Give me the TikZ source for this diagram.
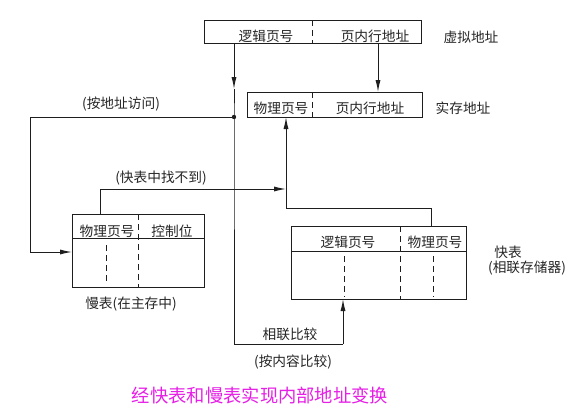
\documentclass[tikz,border=0pt]{standalone}
\usepackage{fontspec}
\newfontfamily\cjk{Noto Sans CJK SC}
\usetikzlibrary{arrows.meta,calc}
\definecolor{titlemag}{RGB}{230,30,230}
\definecolor{linegray}{RGB}{30,30,30}
\tikzset{
  box/.style={draw=linegray,line width=1pt,rectangle,inner sep=0pt},
  conn/.style={draw=linegray,line width=1pt},
  arr/.style={conn,-{Latex[length=12pt,width=5pt]}},
  divl/.style={draw=linegray,line width=1pt,dash pattern=on 6pt off 4pt},
  txt/.style={font=\cjk\fontsize{13.7}{15}\selectfont,inner sep=0pt,text=black!85},
  ttl/.style={font=\cjk\fontsize{18.3}{21}\selectfont,inner sep=0pt,text=titlemag}
}
\begin{document}
\begin{tikzpicture}[x=1pt,y=-1pt]
\useasboundingbox (0,0) rectangle (587,415);
\fill[white] (0,0) rectangle (587,415);
% boxes
\node[box,minimum width=217pt,minimum height=23pt] (va) at (312.5,31.5) {};
\node[box,minimum width=175pt,minimum height=25pt] (ra) at (334.5,104.5) {};
\node[box,minimum width=132pt,minimum height=73pt] (slow) at (138,250.5) {};
\node[box,minimum width=175pt,minimum height=73pt] (fast) at (378.5,262.5) {};
% dividers
\draw[divl] (312,20) -- (312,43);
\draw[divl] (312,92) -- (312,117);
\draw[conn] (72,238) -- (204,238);
\draw[divl] (138,214) -- (138,287);
\draw[divl] (106,245) -- (106,282);
\draw[conn] (291,251) -- (466,251);
\draw[divl] (400,226) -- (400,299);
\draw[divl] (344,256) -- (344,297);
\draw[divl] (433,256) -- (433,297);
% box texts
\node[txt] (t1) at (266,36) {逻辑页号};
\node[txt] (t2) at (375,36) {页内行地址};
\node[txt] (t3) at (281,108) {物理页号};
\node[txt] (t4) at (370,108) {页内行地址};
\node[txt] (t5) at (107,231) {物理页号};
\node[txt] (t6) at (172,231) {控制位};
\node[txt] (t7) at (348,242) {逻辑页号};
\node[txt] (t8) at (435,242) {物理页号};
% labels
\node[txt] (l1) at (471,37) {虚拟地址};
\node[txt] (l2) at (463,108) {实存地址};
\node[txt] (l3) at (121,104) {(按地址访问)};
\node[txt] (l4) at (161,178) {(快表中找不到)};
\node[txt] (l5) at (131,304) {慢表(在主存中)};
\node[txt] (l6) at (508,252) {快表};
\node[txt] (l7) at (527,268) {(相联存储器)};
\node[txt] (l8) at (290,334) {相联比较};
\node[txt] (l9) at (293,362) {(按内容比较)};
\node[ttl] (title) at (260,395) {经快表和慢表实现内部地址变换};
% coordinates
\coordinate (vaL) at (234,43);
\coordinate (mid) at (234,89);
\coordinate (dot) at (234,117);
\coordinate (cB) at (234,344);
\coordinate (cC) at (343,344);
\coordinate (fB) at (343,299);
\coordinate (vaR) at (378,43);
\coordinate (raT) at (378,92);
\coordinate (lA) at (30,117);
\coordinate (lB) at (30,252);
\coordinate (sL) at (72,252);
\coordinate (sT) at (100,214);
\coordinate (sU) at (100,189);
\coordinate (jA) at (286,189);
\coordinate (fT) at (431,226);
\coordinate (fU) at (431,208);
\coordinate (jB) at (286,208);
\coordinate (raB) at (286,117);
% connectors
\draw[arr] (vaL) -- (mid);
\draw[conn] (mid) -- (dot) -- (cB) -- (cC);
\draw[arr] (cC) -- (fB);
\draw[arr] (vaR) -- (raT);
\draw[arr] (dot) -- (lA) -- (lB) -- (sL);
\draw[arr] (sT) -- (sU) -- (jA);
\draw[arr] (fT) -- (fU) -- (jB) -- (raB);
\fill[linegray] (dot) circle (2.2pt);
\end{tikzpicture}
\end{document}
